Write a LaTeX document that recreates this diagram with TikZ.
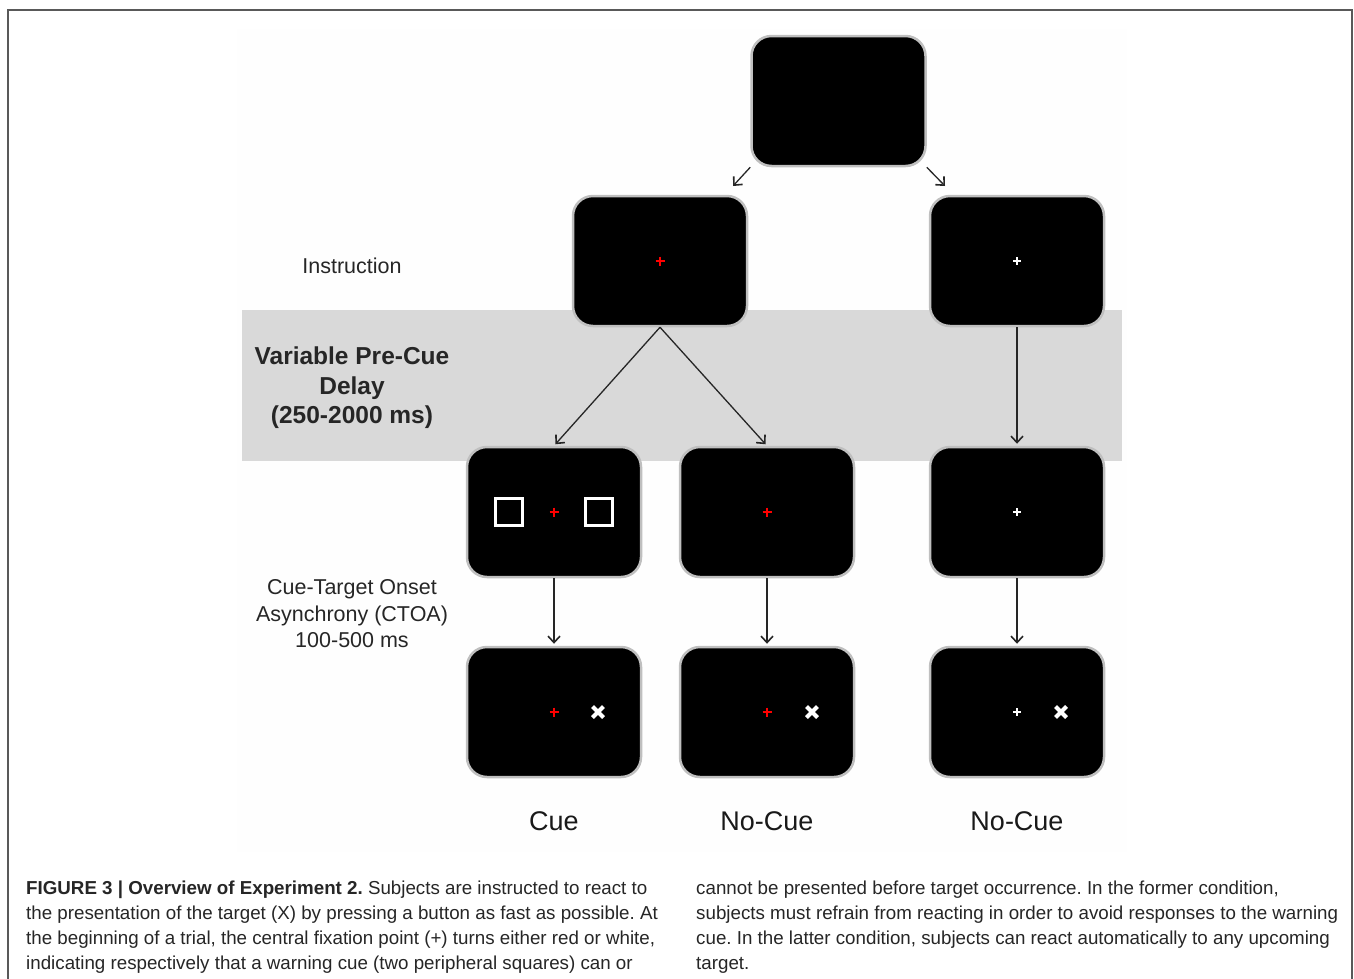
\documentclass[tikz,border=0pt]{standalone}
\usepackage{fontspec}
\setmainfont{Liberation Sans}
\usetikzlibrary{arrows.meta,positioning}
\frenchspacing

\tikzset{
  screen/.style={rectangle, rounded corners=20pt, fill=black, draw=black!25,
    line width=2.5pt, minimum width=174pt, minimum height=130pt, inner sep=0pt},
  flow/.style={draw=black!85, line width=1.3pt, ->},
  sidelbl/.style={font=\fontsize{21.5}{26.5}\selectfont, align=center, text=black!85},
  condlbl/.style={font=\fontsize{27}{32}\selectfont, inner sep=0pt, text=black!90},
  capt/.style={font=\fontsize{18.75}{25}\selectfont, align=left, inner sep=0pt, text=black!85},
  pics/fixpt/.style={code={\draw[line width=2.8pt] (-4.5,0) -- (4.5,0) (0,-4.5) -- (0,4.5);}},
  pics/cuesq/.style={code={\draw[line width=3pt] (-13.5,-13.5) rectangle (13.5,13.5);}},
  pics/tgtx/.style={code={\draw[line width=4pt] (-5.5,-5.5) -- (5.5,5.5) (-5.5,5.5) -- (5.5,-5.5);}},
}

\begin{document}
\begin{tikzpicture}[x=1pt, y=-1pt, >={Straight Barb[length=6.5pt,width=12pt,line width=1.6pt]}]
    \useasboundingbox (0,0) rectangle (1354,978);
    \fill[white] (0,0) rectangle (1354,978);
    \draw[black!65, line width=1.3pt] (8,990) -- (8,10) -- (1352,10) -- (1352,990);
    \fill[black!0.5] (237,29) rectangle (1127,852);

    % delay band
    \fill[black!15] (242,310) rectangle (1122,461);

    % screens
    \node[screen] (start) at (838.5,101) {};
    \node[screen] (instrRed) at (660,261) {};
    \node[screen] (instrWhite) at (1017,261) {};
    \node[screen] (cueRed) at (554,512) {};
    \node[screen] (nocueRed) at (767,512) {};
    \node[screen] (nocueWhite) at (1017,512) {};
    \node[screen] (tgtCue) at (554,712) {};
    \node[screen] (tgtRed) at (767,712) {};
    \node[screen] (tgtWhite) at (1017,712) {};

    % fixation points, cues, targets
    \pic[red] at (instrRed) {fixpt};
    \pic[white, scale=0.8] at (instrWhite) {fixpt};
    \pic[red] at (cueRed) {fixpt};
    \pic[white] at ([xshift=-45pt]cueRed.center) {cuesq};
    \pic[white] at ([xshift=45pt]cueRed.center) {cuesq};
    \pic[red] at (nocueRed) {fixpt};
    \pic[white, scale=0.8] at (nocueWhite) {fixpt};
    \pic[red] at (tgtCue) {fixpt};
    \pic[white] at ([xshift=44pt]tgtCue.center) {tgtx};
    \pic[red] at (tgtRed) {fixpt};
    \pic[white] at ([xshift=45pt]tgtRed.center) {tgtx};
    \pic[white, scale=0.8] at (tgtWhite) {fixpt};
    \pic[white] at ([xshift=44pt]tgtWhite.center) {tgtx};

    % arrows
    \coordinate (toL) at (733,186);
    \coordinate (toR) at (945,186);
    \draw[flow] (start.south west) -- (toL);
    \draw[flow] (start.south east) -- (toR);
    \draw[flow, shorten >=2pt] (instrRed.south) -- (cueRed.north);
    \draw[flow, shorten >=2pt] (instrRed.south) -- (nocueRed.north);
    \draw[flow, shorten >=2pt] (instrWhite.south) -- (nocueWhite.north);
    \draw[flow, shorten >=2pt] (cueRed.south) -- (tgtCue.north);
    \draw[flow, shorten >=2pt] (nocueRed.south) -- (tgtRed.north);
    \draw[flow, shorten >=2pt] (nocueWhite.south) -- (tgtWhite.north);

    % labels
    \node[sidelbl] (lblInstr) at (352,266) {Instruction};
    \node[sidelbl, font=\bfseries\fontsize{24.5}{29.5}\selectfont] (lblDelay) at (352,388)
        {Variable Pre-Cue\\Delay\\(250-2000 ms)};
    \node[sidelbl] (lblCtoa) at (352,614) {Cue-Target Onset\\Asynchrony (CTOA)\\100-500 ms};
    \node[condlbl, below=33.5pt of tgtCue] (lblCue) {Cue};
    \node[condlbl, below=33.5pt of tgtRed] (lblNoCueA) {No-Cue};
    \node[condlbl, below=33.5pt of tgtWhite] (lblNoCueB) {No-Cue};

    % caption
    \node[capt, anchor=north west] (capL) at (26,880.5)
        {\textbf{FIGURE 3 | Overview of Experiment 2.} Subjects are instructed to react to\\
         the presentation of the target (X) by pressing a button as fast as possible. At\\
         the beginning of a trial, the central fixation point (+) turns either red or white,\\
         indicating respectively that a warning cue (two peripheral squares) can or};
    \node[capt, anchor=north west] (capR) at (696,880.5)
        {cannot be presented before target occurrence. In the former condition,\\
         subjects must refrain from reacting in order to avoid responses to the warning\\
         cue. In the latter condition, subjects can react automatically to any upcoming\\
         target.};
\end{tikzpicture}
\end{document}
